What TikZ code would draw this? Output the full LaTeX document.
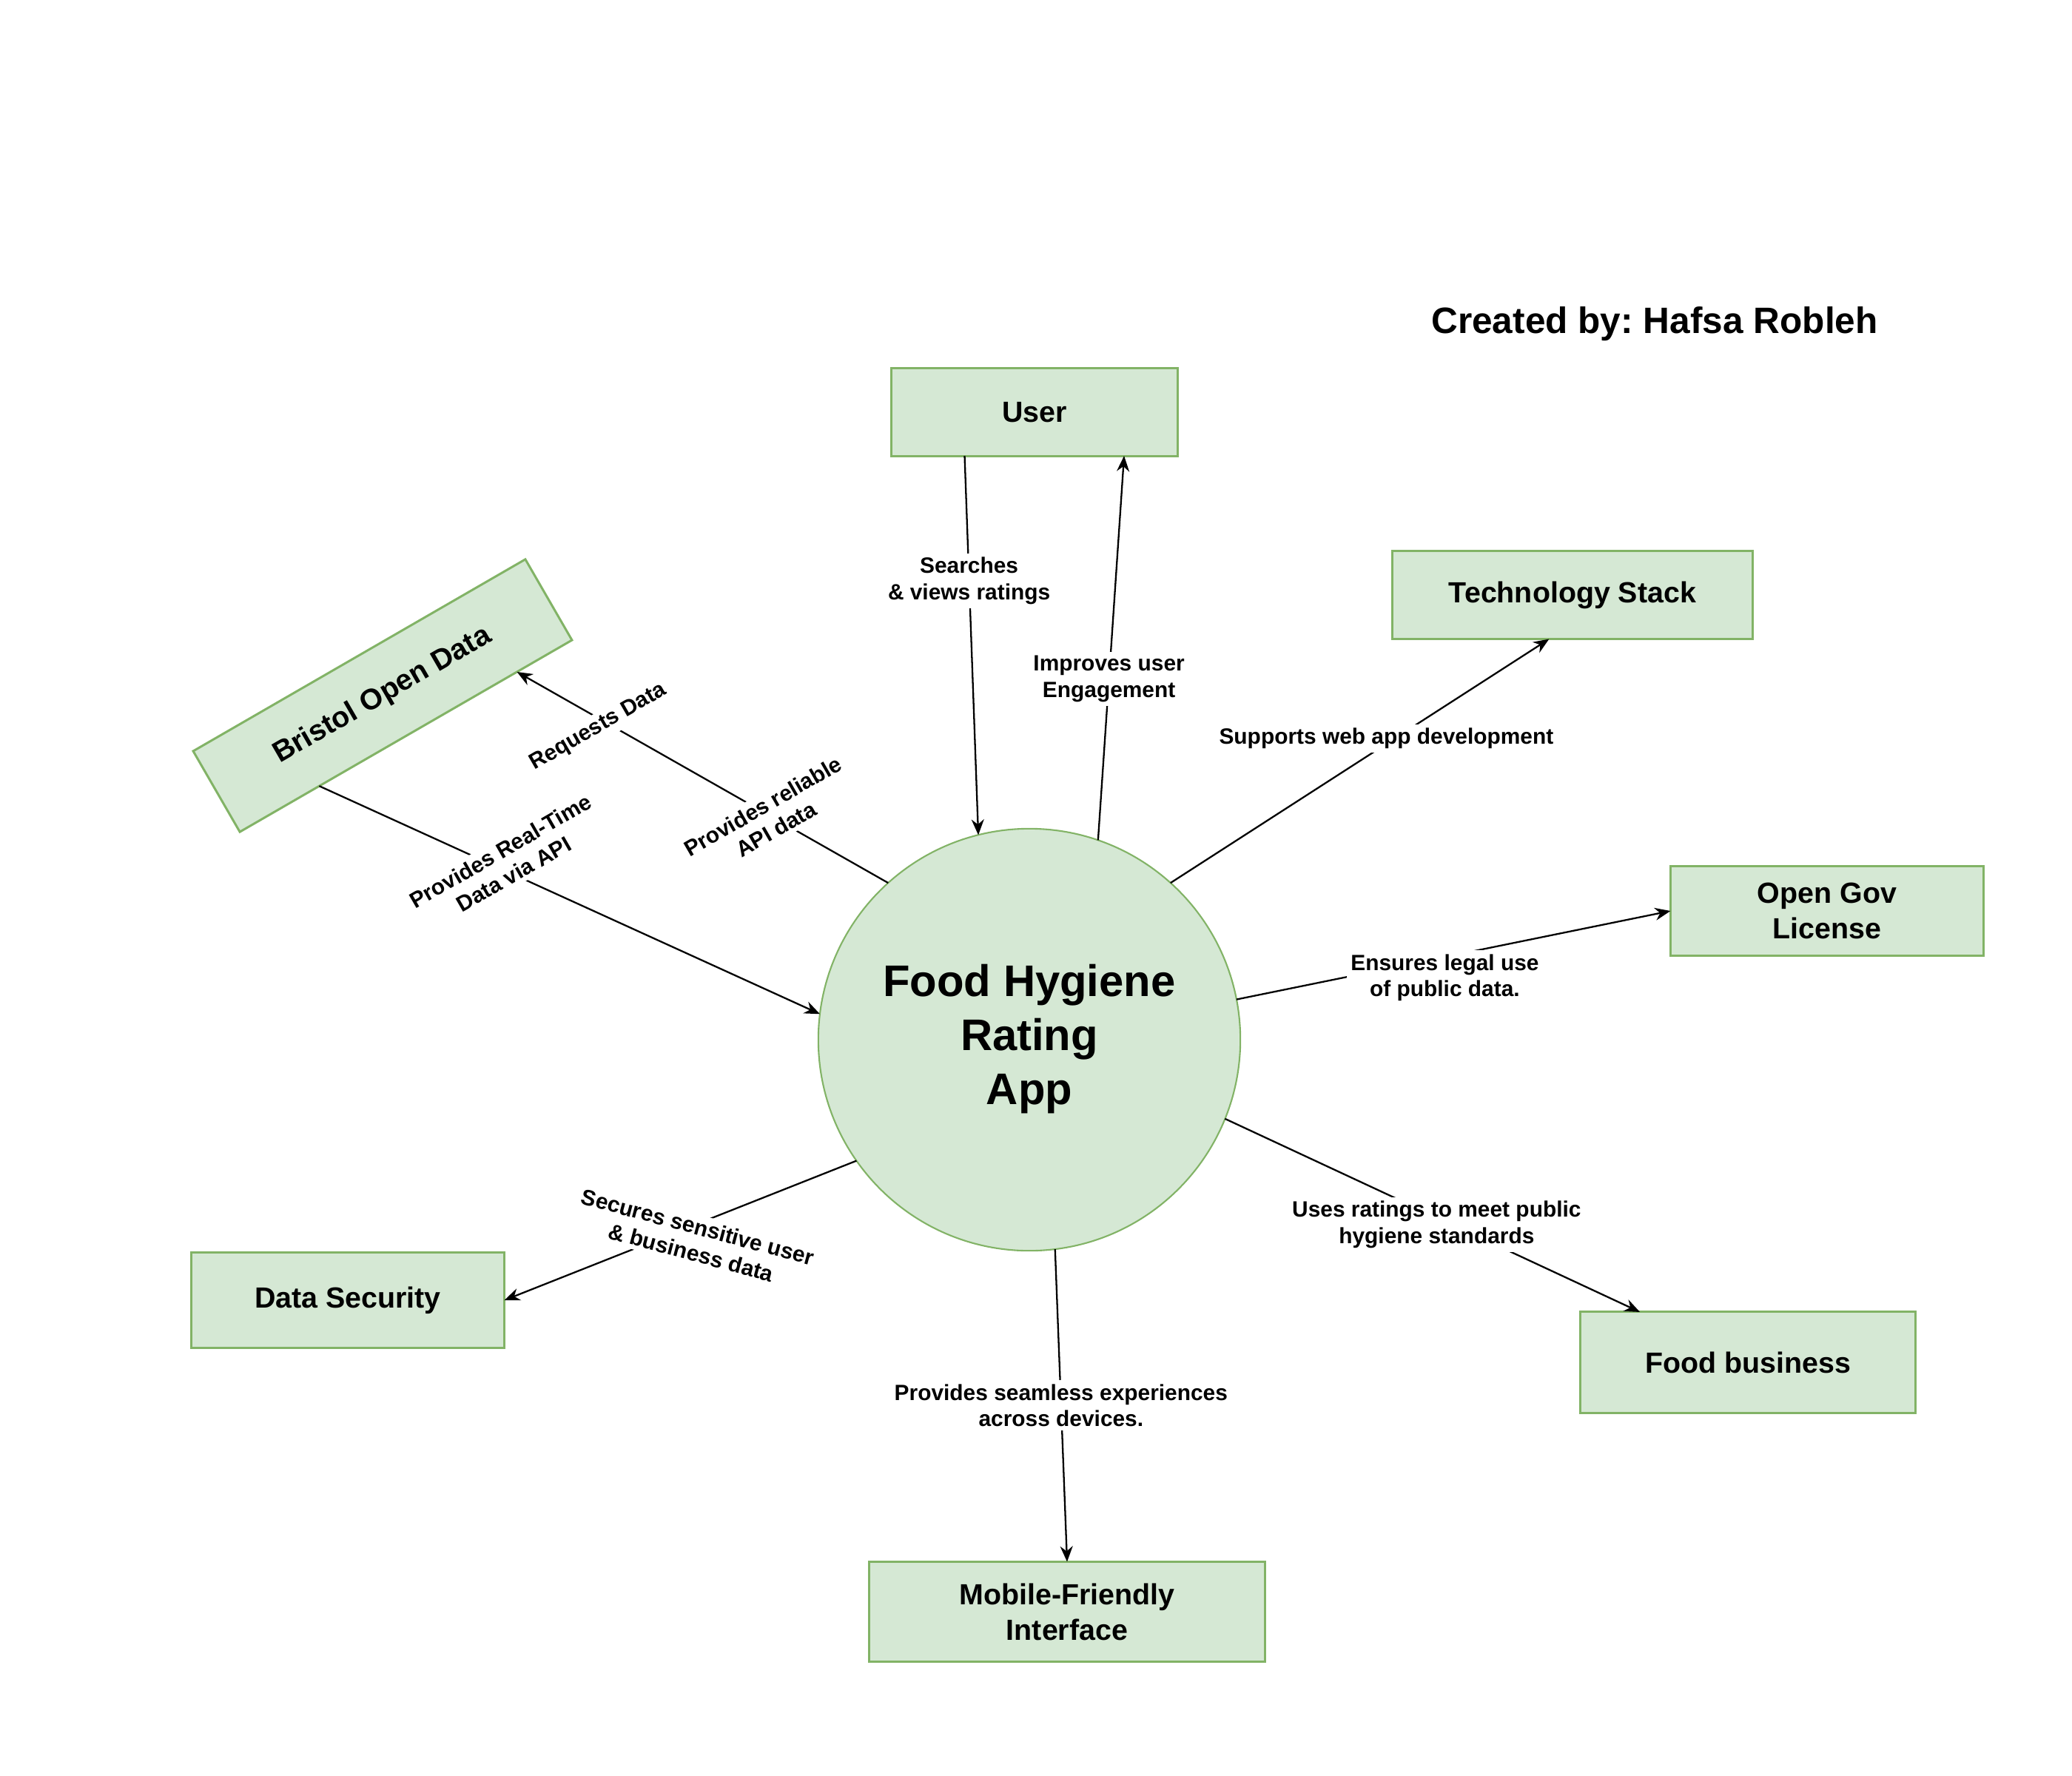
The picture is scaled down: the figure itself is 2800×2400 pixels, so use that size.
\documentclass[tikz,border=0pt]{standalone}
\usepackage{fontspec}
\setmainfont{Liberation Sans}
\frenchspacing
\usepackage{tikz}
\usetikzlibrary{arrows.meta}
\definecolor{boxgreen}{HTML}{D5E8D4}
\definecolor{linegreen}{HTML}{82B366}
\tikzset {
  % green boxes round the app
  box/.style = {draw=linegreen, fill=boxgreen, line width=0.85pt, align=center,
    inner sep=0pt, outer sep=0pt, font=\bfseries\fontsize{11.2}{13.7}\selectfont},
  % the app itself
  hub/.style = {draw=linegreen, fill=boxgreen, line width=0.6pt, circle, minimum size=5.7cm,
    inner sep=0pt, outer sep=0pt, align=center, font=\bfseries\fontsize{17}{20.7}\selectfont},
  % arrows and the text on them
  flow/.style = {line width=0.65pt, -{Stealth[length=2.1mm, width=1.7mm]}},
  tag/.style = {fill=white, align=center, inner sep=1.5pt, font=\bfseries\fontsize{8.5}{10.2}\selectfont},
}
\begin{document}
\begin{tikzpicture}[x=0.01cm, y=-0.01cm]
  \useasboundingbox (0,0) rectangle (2800,2400);

  \node[hub] (app) at (1391,1405) {\raisebox{-0.05cm}{\begin{tabular}{@{}c@{}}Food Hygiene\\Rating\\App\end{tabular}}};
  \node[box, minimum width=3.86cm, minimum height=1.18cm] (user) at (1398,557) {User};
  \node[box, minimum width=4.86cm, minimum height=1.19cm] (tech) at (2125,804) {Technology Stack};
  \node[box, minimum width=4.23cm, minimum height=1.20cm] (ogl) at (2469,1231) {Open Gov\\License};
  \node[box, minimum width=4.52cm, minimum height=1.36cm] (food) at (2362,1841) {Food business};
  \node[box, minimum width=5.34cm, minimum height=1.35cm] (mobile) at (1442,2178) {Mobile-Friendly\\Interface};
  \node[box, minimum width=4.23cm, minimum height=1.28cm] (security) at (470,1757) {Data Security};
  \node[box, rotate=30, minimum width=5.18cm, minimum height=1.26cm] (bristol) at (517,940) {Bristol Open Data};
  \node[font=\bfseries\fontsize{14.1}{17}\selectfont] (credit) at (2236,438) {Created by: Hafsa Robleh};

  \draw[flow] (bristol.-155) -- node[tag, pos=0.375, yshift=0.12cm, rotate=30] {Provides Real-Time\\Data via API} (app.173);
  \draw[flow] (app.132) -- node[tag, pos=0.32, yshift=-0.03cm, rotate=30] {Provides reliable\\API data}
    node[tag, pos=0.78, yshift=-0.12cm, rotate=30] {Requests Data} (bristol.-20);
  \draw[flow] (user.-148) -- node[tag, pos=0.33] {Searches\\\& views ratings} (app.104);
  \draw[flow] (app.71) -- node[tag, pos=0.42] {Improves user\\Engagement} (user.-26);
  \draw[flow] (app.48.5) -- node[tag, pos=0.57, yshift=0.07cm] {Supports web app development} (tech.-118);
  \draw[flow] (app.11.5) -- node[tag, pos=0.48, yshift=-0.28cm] {Ensures legal use\\of public data.} (ogl.west);
  \draw[flow] (app.-22) -- node[tag, pos=0.51, yshift=-0.1cm] {Uses ratings to meet public\\hygiene standards} (food.155);
  \draw[flow] (app.-145) -- node[tag, pos=0.46, yshift=-0.2cm, rotate=-15] {Secures sensitive user\\\& business data} (security.east);
  \draw[flow] (app.-83) -- node[tag, pos=0.5] {Provides seamless experiences\\across devices.} (mobile.north);
\end{tikzpicture}
\end{document}
